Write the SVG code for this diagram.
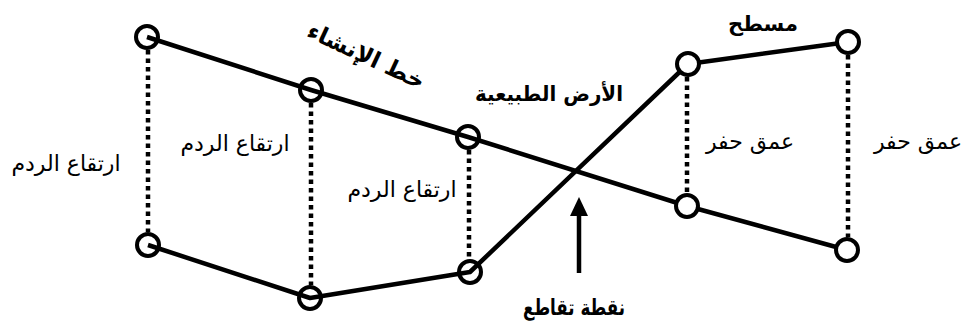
<svg xmlns="http://www.w3.org/2000/svg" width="964" height="327" viewBox="0 0 964 327">
<style>
.ln{fill:none;stroke:#000;stroke-width:4.5;stroke-linejoin:round}
.dot{fill:none;stroke:#000;stroke-width:4.5;stroke-dasharray:4.5 4}
.nd{stroke:#000;stroke-width:4}
.t{font-family:"DejaVu Sans","Liberation Sans",sans-serif;font-size:22px;fill:#000;text-anchor:middle}
.b{font-weight:bold}
</style>
<rect width="964" height="327" fill="#fff"/>
<g id="connectors">
<polyline class="ln" points="147,37 311,90 468,137 687,206 847,250"/>
<polyline class="ln" points="148,245 310,298 470,272 688,64 848,42"/>
<line class="dot" x1="148" y1="50" x2="148" y2="232"/>
<line class="dot" x1="311" y1="103" x2="311" y2="285"/>
<line class="dot" x1="469" y1="150" x2="469" y2="259"/>
<line class="dot" x1="687" y1="77" x2="687" y2="193"/>
<line class="dot" x1="848" y1="55" x2="848" y2="237"/>
<line x1="579" y1="273" x2="579" y2="214" stroke="#000" stroke-width="4.5"/>
<path d="M570,216 L579,197 L588,216 Z" fill="#000"/>
</g>
<g id="nA"><circle class="nd" cx="147" cy="37" r="11" fill="none"/></g>
<g id="nB"><circle class="nd" cx="311" cy="90" r="11" fill="none"/></g>
<g id="nC"><circle class="nd" cx="468" cy="137" r="11" fill="none"/></g>
<g id="nD"><circle class="nd" cx="687" cy="206" r="11" fill="#fff"/></g>
<g id="nE"><circle class="nd" cx="847" cy="250" r="11" fill="#fff"/></g>
<g id="nF"><circle class="nd" cx="148" cy="245" r="11" fill="none"/></g>
<g id="nG"><circle class="nd" cx="310" cy="298" r="11" fill="none"/></g>
<g id="nH"><circle class="nd" cx="470" cy="272" r="11" fill="none"/></g>
<g id="nI"><circle class="nd" cx="688" cy="64" r="11" fill="#fff"/></g>
<g id="nJ"><circle class="nd" cx="848" cy="42" r="11" fill="#fff"/></g>
<g id="labels">
<text class="t" x="66" y="171">ارتقاع الردم</text>
<text class="t" x="235" y="151">ارتقاع الردم</text>
<text class="t" x="402" y="197">ارتقاع الردم</text>
<text class="t" x="750" y="149">عمق حفر</text>
<text class="t" x="918" y="149">عمق حفر</text>
<text class="t b" x="763" y="31" style="font-size:21px">مسطح</text>
<text class="t b" x="549" y="101" style="font-size:21px" textLength="148" lengthAdjust="spacingAndGlyphs">الأرض الطبيعية</text>
<text class="t b" x="574" y="315" style="font-size:22px" textLength="102" lengthAdjust="spacingAndGlyphs">نقطة تقاطع</text>
<text class="t b" transform="translate(363,63) rotate(25)" style="font-size:23px">خط الإنشاء</text>
</g>
</svg>
